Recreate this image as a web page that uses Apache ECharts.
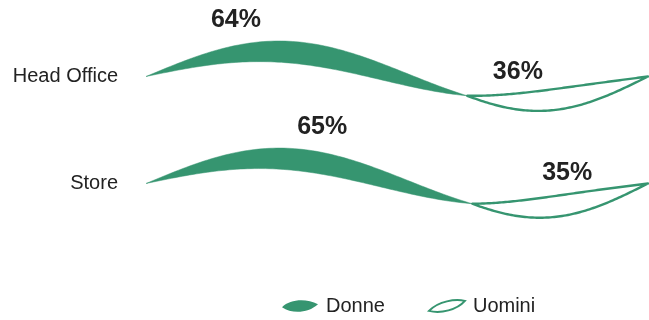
<!DOCTYPE html>
<html>
<head>
<meta charset="utf-8">
<script src="https://cdn.jsdelivr.net/npm/echarts@6/dist/echarts.min.js"></script>
<style>
  html, body { margin: 0; padding: 0; background: #fff; }
  #chart { width: 649px; height: 320px; }
</style>
</head>
<body>
<div id="chart"></div>
<script>
// Workforce split by gender, per location (percent)
const categories = ['Head Office', 'Store'];
const donne = [64, 65];
const uomini = [36, 35];
const seriesNames = ['Donne', 'Uomini'];

// Styling / layout constants
const GREEN = '#369570';
const TEXT = '#222222';
const FONT = '"Liberation Sans", Arial, Helvetica, sans-serif';
const AMP = 25;                               // wave amplitude (px)
const THICK = { Donne: 22, Uomini: 21 };      // leaf max thickness (px)
const LABEL_ALONG = [0.28, 0.54];             // where the % label sits along each leaf, per row
const LABEL_LIFT = { Donne: 25, Uomini: 21 }; // label distance above the leaf edge (px)

const LEAF_FILLED = 'path://M0,8 C8,0 24,-1 36,5 C26,14 10,15 0,8 Z';
const LEAF_OUTLINE = 'path://M0,12 C10,2 26,0 36,2 C28,11 12,15 0,12 Z';

function leafRenderer(kind) {
  return function (params, api) {
    const start = api.value(0);
    const end = api.value(1);
    const row = api.value(2);
    const pct = api.value(3);
    const p0 = api.coord([0, row]);
    const p100 = api.coord([100, row]);
    const xs = api.coord([start, row])[0];
    const xe = api.coord([end, row])[0];
    const yc = p0[1];
    const span = p100[0] - p0[0];
    const wave = x => yc - AMP * Math.sin(2 * Math.PI * (x - p0[0]) / span);
    const half = THICK[kind] / 2;
    const N = 90;
    const top = [], bot = [];
    for (let i = 0; i <= N; i++) {
      const u = i / N;
      const x = xs + (xe - xs) * u;
      const h = half * Math.sin(Math.PI * u);
      top.push([x, wave(x) - h]);
      bot.push([x, wave(x) + h]);
    }
    const points = top.concat(bot.reverse());
    const ua = LABEL_ALONG[row];
    const lx = xs + (xe - xs) * ua;
    const ly = wave(lx) - half * Math.sin(Math.PI * ua) - LABEL_LIFT[kind];
    const filled = kind === 'Donne';
    return {
      type: 'group',
      children: [
        {
          type: 'polygon',
          shape: { points: points },
          style: filled
            ? { fill: GREEN, stroke: GREEN, lineWidth: 0.5 }
            : { fill: 'none', stroke: GREEN, lineWidth: 2.4, lineJoin: 'round' }
        },
        {
          type: 'text',
          style: {
            text: pct + '%',
            x: lx,
            y: ly,
            fill: TEXT,
            font: 'bold 25px ' + FONT,
            align: 'center',
            verticalAlign: 'middle',
            textAlign: 'center',
            textVerticalAlign: 'middle'
          }
        }
      ]
    };
  };
}

const donneData = categories.map((c, i) => [0, donne[i], i, donne[i]]);
const uominiData = categories.map((c, i) => [donne[i], donne[i] + uomini[i], i, uomini[i]]);

const chart = echarts.init(document.getElementById('chart'), null, { renderer: 'canvas' });
chart.setOption({
  animation: false,
  backgroundColor: '#ffffff',
  grid: { left: 146, right: 1, top: 23, height: 214 },
  xAxis: { type: 'value', min: 0, max: 100, show: false },
  yAxis: {
    type: 'category',
    data: categories,
    inverse: true,
    axisLine: { show: false },
    axisTick: { show: false },
    splitLine: { show: false },
    axisLabel: { fontSize: 20, color: TEXT, fontFamily: FONT, margin: 28 }
  },
  legend: {
    left: 282,
    top: 296,
    padding: 0,
    itemWidth: 36,
    itemHeight: 14,
    itemGap: 43,
    textStyle: { fontSize: 20, color: TEXT, fontFamily: FONT, padding: [0, 0, 0, 3] },
    data: [
      { name: seriesNames[0], icon: LEAF_FILLED, itemStyle: { color: GREEN, borderWidth: 0 } },
      { name: seriesNames[1], icon: LEAF_OUTLINE, itemStyle: { color: 'rgba(255,255,255,0)', borderColor: GREEN, borderWidth: 2 } }
    ]
  },
  series: [
    {
      name: seriesNames[0],
      type: 'custom',
      itemStyle: { color: GREEN },
      encode: { x: [0, 1], y: 2 },
      renderItem: leafRenderer('Donne'),
      data: donneData
    },
    {
      name: seriesNames[1],
      type: 'custom',
      itemStyle: { color: GREEN },
      encode: { x: [0, 1], y: 2 },
      renderItem: leafRenderer('Uomini'),
      data: uominiData
    }
  ]
});
</script>
</body>
</html>
